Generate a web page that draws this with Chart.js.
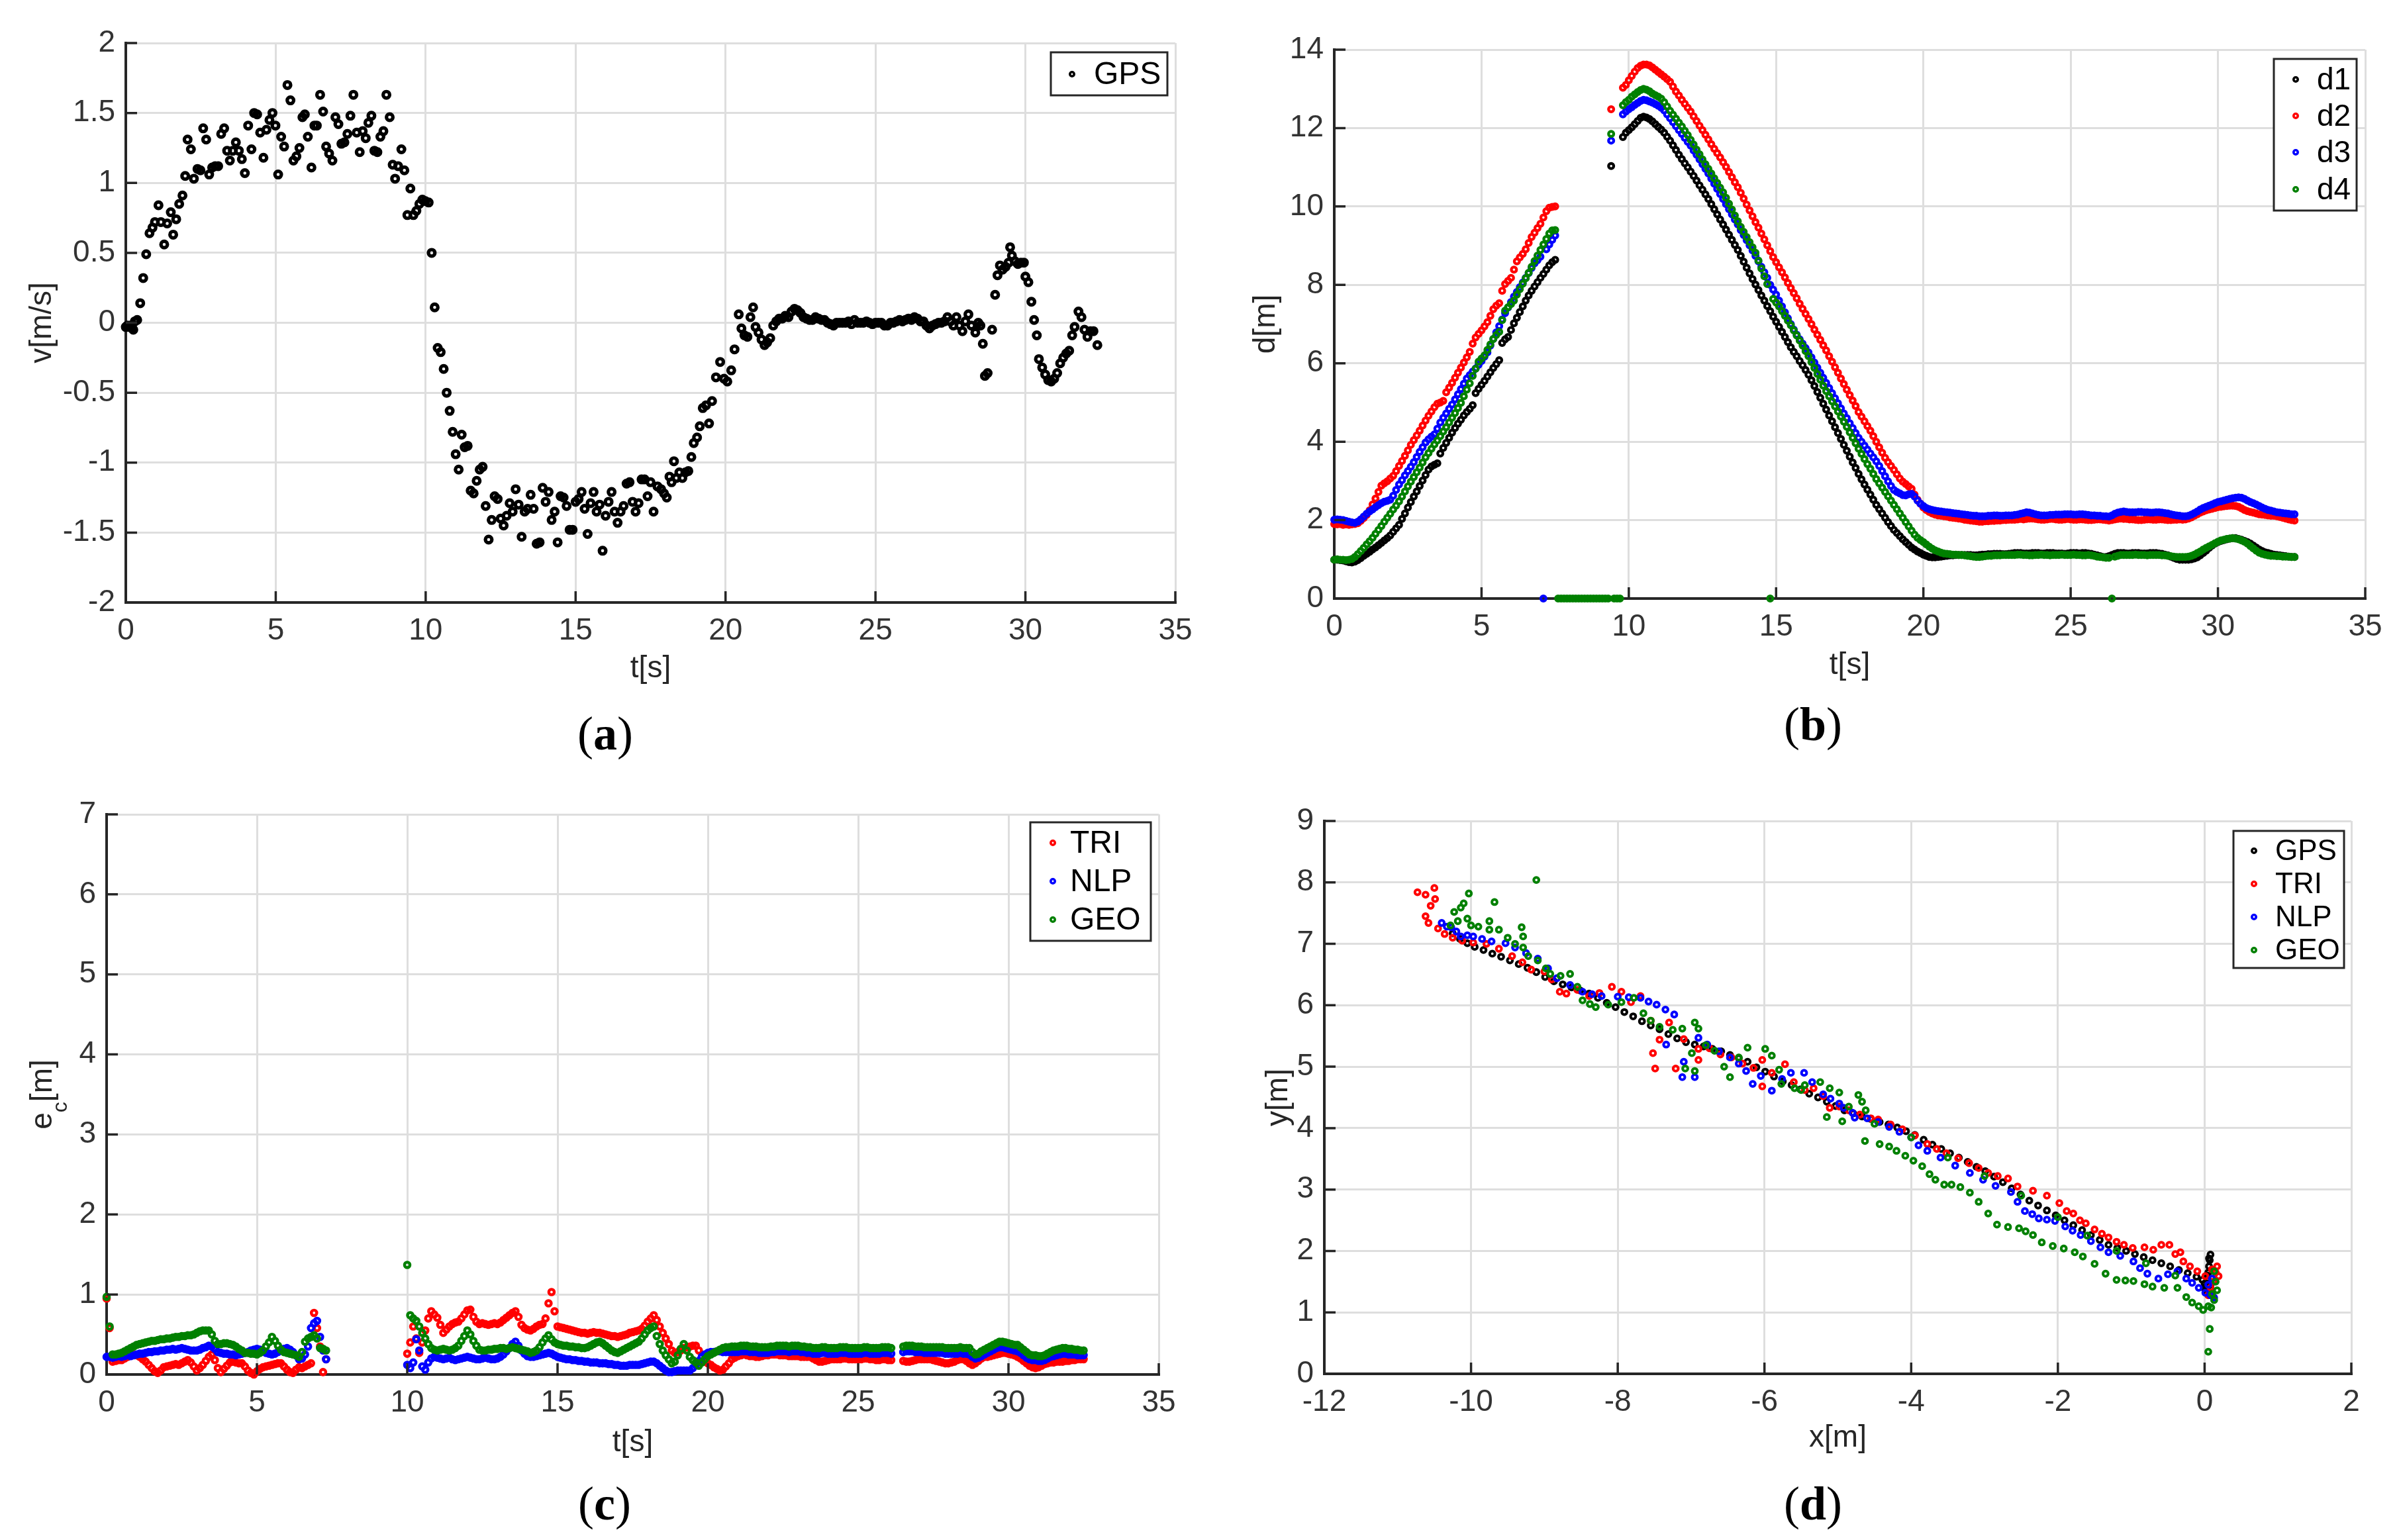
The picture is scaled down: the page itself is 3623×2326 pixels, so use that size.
<!DOCTYPE html>
<html><head><meta charset="utf-8">
<script src="https://cdn.jsdelivr.net/npm/chart.js@4.4.1/dist/chart.umd.min.js"></script>
<style>
html,body{margin:0;padding:0;background:#fff;}
body{width:3623px;height:2326px;position:relative;overflow:hidden;}
canvas{position:absolute;}
.cap{position:absolute;font-family:"Liberation Serif","Times New Roman",serif;font-size:72px;color:#000;transform:translate(-50%,-50%);white-space:nowrap;line-height:1;}
.cap b{font-weight:bold;}
</style></head><body>
<div class="cap" style="left:914px;top:1108px">(<b>a</b>)</div>
<div class="cap" style="left:2738px;top:1094px">(<b>b</b>)</div>
<div class="cap" style="left:913px;top:2271px">(<b>c</b>)</div>
<div class="cap" style="left:2738px;top:2271px">(<b>d</b>)</div>
<script>
const _ = null;

// ---------- (a) GPS velocity ----------
const aT = [
0,0.05,0.1,0.15,0.2,0.25,0.3,0.38,0.48,0.58,
0.68,0.79,0.89,0.97,1.09,1.17,1.28,1.38,1.5,1.58,
1.68,1.78,1.89,1.98,2.06,2.17,2.27,2.39,2.49,2.58,
2.68,2.78,2.88,2.98,3.08,3.18,3.28,3.38,3.47,3.57,
3.67,3.77,3.87,3.97,4.08,4.19,4.28,4.38,4.48,4.59,
4.69,4.79,4.89,4.99,5.08,5.18,5.28,5.39,5.49,5.59,
5.69,5.79,5.89,5.97,6.07,6.19,6.29,6.37,6.48,6.58,
6.68,6.78,6.89,6.99,7.09,7.19,7.29,7.39,7.49,7.59,
7.7,7.8,7.9,8,8.09,8.19,8.29,8.39,8.49,8.59,
8.69,8.8,8.9,8.98,9.08,9.19,9.29,9.39,9.49,9.59,
9.69,9.79,9.89,9.99,10.1,10.2,10.3,10.4,10.5,10.6,
10.7,10.8,10.9,11,11.1,11.2,11.3,11.4,11.5,11.6,
11.7,11.8,11.9,12,12.1,12.2,12.3,12.4,12.5,12.6,
12.7,12.8,12.9,13,13.1,13.2,13.3,13.4,13.5,13.6,
13.7,13.8,13.9,14,14.1,14.2,14.3,14.4,14.5,14.6,
14.7,14.8,14.9,15,15.1,15.2,15.3,15.4,15.5,15.6,
15.7,15.8,15.9,16,16.1,16.2,16.3,16.4,16.5,16.6,
16.7,16.8,16.9,17,17.1,17.2,17.3,17.4,17.5,17.6,
17.73,17.85,17.95,18.04,18.13,18.2,18.28,18.36,18.46,18.56,
18.66,18.76,18.86,18.94,19.05,19.14,19.24,19.35,19.45,19.55,
19.68,19.82,19.95,20.06,20.19,20.3,20.44,20.53,20.63,20.73,
20.83,20.92,21,21.1,21.2,21.3,21.39,21.49,21.59,21.69,
21.79,21.89,21.99,22.1,22.2,22.3,22.4,22.5,22.6,22.7,
22.8,22.9,23,23.1,23.2,23.3,23.4,23.5,23.6,23.7,
23.8,23.9,24,24.1,24.2,24.3,24.4,24.5,24.6,24.7,
24.8,24.9,25,25.1,25.2,25.3,25.4,25.5,25.6,25.7,
25.8,25.9,26,26.1,26.2,26.3,26.4,26.5,26.6,26.7,
26.8,26.9,27,27.1,27.2,27.3,27.4,27.5,27.6,27.7,
27.8,27.9,28,28.1,28.2,28.33,28.43,28.5,28.58,28.65,
28.74,28.89,28.99,29.07,29.15,29.24,29.34,29.44,29.49,29.55,
29.65,29.75,29.85,29.95,30,30.1,30.2,30.29,30.38,30.45,
30.56,30.66,30.76,30.86,30.96,31.06,31.16,31.26,31.36,31.46,
31.56,31.64,31.77,31.87,31.97,32.07,32.17,32.27,32.4];
const aV = [
-0.03,-0.02,-0.03,-0.02,-0.03,-0.05,0.01,0.02,0.14,0.32,
0.49,0.64,0.68,0.72,0.84,0.72,0.56,0.71,0.79,0.63,
0.74,0.85,0.91,1.05,1.31,1.24,1.03,1.1,1.09,1.39,
1.31,1.06,1.11,1.12,1.12,1.35,1.39,1.23,1.16,1.23,
1.29,1.23,1.17,1.07,1.41,1.24,1.5,1.49,1.36,1.18,
1.38,1.45,1.5,1.41,1.06,1.33,1.26,1.7,1.59,1.16,
1.19,1.25,1.47,1.49,1.33,1.11,1.41,1.41,1.63,1.51,
1.26,1.21,1.16,1.47,1.42,1.28,1.29,1.35,1.48,1.63,
1.36,1.22,1.37,1.32,1.43,1.48,1.23,1.22,1.33,1.37,
1.63,1.47,1.13,1.03,1.12,1.24,1.09,0.77,0.96,0.77,
0.8,0.85,0.88,0.87,0.86,0.5,0.11,-0.18,-0.21,-0.33,
-0.5,-0.63,-0.78,-0.94,-1.05,-0.8,-0.89,-0.88,-1.2,-1.22,
-1.13,-1.05,-1.03,-1.31,-1.55,-1.41,-1.24,-1.26,-1.4,-1.45,
-1.38,-1.29,-1.35,-1.19,-1.3,-1.53,-1.35,-1.33,-1.23,-1.33,
-1.58,-1.57,-1.18,-1.28,-1.21,-1.41,-1.35,-1.57,-1.24,-1.25,
-1.31,-1.48,-1.48,-1.28,-1.26,-1.21,-1.33,-1.51,-1.29,-1.21,
-1.35,-1.3,-1.63,-1.38,-1.28,-1.21,-1.35,-1.43,-1.35,-1.31,
-1.15,-1.14,-1.28,-1.35,-1.29,-1.12,-1.12,-1.24,-1.14,-1.35,
-1.17,-1.19,-1.22,-1.25,-1.1,-1.14,-0.99,-1.11,-1.07,-1.11,
-1.07,-1.06,-0.96,-0.86,-0.82,-0.74,-0.61,-0.59,-0.72,-0.56,
-0.39,-0.28,-0.4,-0.42,-0.34,-0.19,0.06,-0.04,-0.09,-0.1,
0.04,0.11,-0.03,-0.07,-0.12,-0.16,-0.14,-0.11,-0.02,0.01,
0.03,0.03,0.05,0.04,0.08,0.1,0.09,0.07,0.04,0.03,
0.02,0.02,0.04,0.03,0.02,0.02,0,-0.01,-0.02,0,
0,0,0,0.01,-0.01,0.02,0,0,0,0.01,
0,-0.01,0,0,0,-0.02,-0.02,0,0,0.01,
0.02,0.01,0.02,0.03,0.02,0.04,0.03,0.01,0.01,-0.02,
-0.04,-0.02,-0.01,0,0,0.01,0.04,0.01,-0.02,0.04,
-0.02,-0.06,0.01,0.06,-0.02,-0.07,0,-0.02,-0.15,-0.38,
-0.36,-0.05,0.2,0.34,0.41,0.38,0.4,0.43,0.54,0.48,
0.44,0.42,0.43,0.43,0.33,0.29,0.15,0.02,-0.09,-0.26,
-0.32,-0.37,-0.41,-0.42,-0.4,-0.36,-0.29,-0.25,-0.22,-0.2,
-0.09,-0.03,0.08,0.04,-0.05,-0.1,-0.06,-0.06,-0.16];

// ---------- sample clock for (b) and (c): 10 samples per second, one row per second ----------
const tGrid = Array.from({length: 330}, (u, i) => i / 10);

// ---------- (b) distances d1..d4 [m] ----------
const bD1 = [
0.99,0.99,0.98,0.97,0.95,0.93,0.92,0.94,0.98,1.03,
1.09,1.14,1.19,1.25,1.30,1.36,1.42,1.48,1.54,1.61,
1.70,1.79,1.88,2.03,2.17,2.32,2.46,2.60,2.73,2.87,
3.01,3.15,3.29,3.37,3.41,3.45,3.70,3.84,3.97,4.10,
4.23,4.35,4.46,4.56,4.67,4.76,4.84,4.93,5.24,5.35,
5.45,5.55,5.66,5.77,5.88,5.98,6.08,6.52,6.61,6.67,
6.85,7.02,7.16,7.31,7.45,7.60,7.73,7.85,7.96,8.07,
8.18,8.28,8.39,8.50,8.58,8.64,_,_,_,_,
_,_,_,_,_,_,_,_,_,_,
_,_,_,_,11.03,_,_,_,11.77,11.88,
11.95,12.02,12.10,12.18,12.26,12.29,12.27,12.23,12.17,12.10,
12.03,11.96,11.88,11.78,11.68,11.56,11.44,11.32,11.21,11.10,
11.00,10.89,10.78,10.66,10.54,10.43,10.31,10.19,10.06,9.93,
9.80,9.67,9.54,9.41,9.28,9.15,9.02,8.89,8.74,8.59,
8.44,8.29,8.15,8.01,7.87,7.73,7.60,7.46,7.33,7.19,
7.06,6.93,6.80,6.67,6.54,6.41,6.29,6.18,6.06,5.95,
5.83,5.71,5.57,5.42,5.27,5.12,4.97,4.82,4.67,4.52,
4.37,4.22,4.07,3.92,3.77,3.62,3.47,3.33,3.18,3.04,
2.91,2.78,2.65,2.52,2.39,2.28,2.17,2.06,1.95,1.85,
1.75,1.67,1.59,1.51,1.44,1.37,1.30,1.25,1.20,1.16,
1.12,1.09,1.06,1.05,1.05,1.06,1.07,1.08,1.09,1.10,
1.10,1.11,1.11,1.11,1.11,1.11,1.11,1.10,1.10,1.11,
1.12,1.12,1.13,1.13,1.14,1.14,1.14,1.13,1.13,1.14,
1.15,1.16,1.16,1.16,1.15,1.15,1.15,1.16,1.16,1.16,
1.15,1.15,1.16,1.16,1.16,1.15,1.15,1.15,1.14,1.15,
1.16,1.16,1.16,1.15,1.16,1.16,1.15,1.14,1.12,1.10,
1.08,1.06,1.06,1.08,1.11,1.14,1.16,1.16,1.16,1.15,
1.15,1.16,1.16,1.16,1.15,1.15,1.15,1.16,1.16,1.16,
1.15,1.14,1.12,1.10,1.07,1.04,1.01,0.99,0.99,0.99,
0.99,1.00,1.02,1.05,1.10,1.16,1.22,1.29,1.35,1.40,
1.44,1.47,1.49,1.51,1.53,1.54,1.54,1.52,1.50,1.47,
1.44,1.40,1.35,1.30,1.25,1.21,1.18,1.16,1.14,1.12,
1.11,1.10,1.09,1.08,1.07,1.06,1.06,_,_,_];
const bD2 = [
1.90,1.89,1.90,1.88,1.89,1.88,1.89,1.90,1.92,1.98,
2.05,2.13,2.25,2.40,2.55,2.72,2.88,2.94,2.99,3.06,
3.13,3.25,3.38,3.51,3.64,3.78,3.92,4.04,4.16,4.28,
4.41,4.54,4.66,4.77,4.88,4.97,5.00,5.04,5.26,5.38,
5.50,5.63,5.76,5.89,6.02,6.15,6.29,6.50,6.66,6.75,
6.84,6.94,7.05,7.21,7.38,7.47,7.53,7.85,8.02,8.10,
8.18,8.39,8.60,8.70,8.79,8.91,9.07,9.22,9.33,9.45,
9.56,9.72,9.88,9.97,9.99,10.00,_,_,_,_,
_,_,_,_,_,_,_,_,_,_,
_,_,_,_,12.48,_,_,_,13.03,13.10,
13.22,13.33,13.44,13.53,13.59,13.62,13.62,13.60,13.55,13.49,
13.43,13.37,13.31,13.25,13.18,13.06,12.93,12.83,12.72,12.62,
12.52,12.42,12.30,12.18,12.06,11.95,11.83,11.71,11.59,11.47,
11.36,11.25,11.13,11.01,10.88,10.75,10.62,10.49,10.35,10.20,
10.05,9.90,9.75,9.60,9.46,9.31,9.16,9.01,8.86,8.71,
8.58,8.45,8.32,8.19,8.05,7.92,7.79,7.66,7.52,7.39,
7.26,7.13,7.00,6.86,6.73,6.60,6.46,6.33,6.18,6.04,
5.90,5.76,5.61,5.47,5.33,5.19,5.05,4.91,4.76,4.64,
4.52,4.40,4.28,4.14,4.00,3.86,3.72,3.59,3.48,3.38,
3.28,3.17,3.06,2.98,2.92,2.86,2.80,2.65,2.52,2.42,
2.32,2.26,2.21,2.17,2.14,2.12,2.11,2.10,2.09,2.07,
2.06,2.05,2.04,2.03,2.01,2.00,1.99,1.98,1.97,1.96,
1.96,1.97,1.97,1.98,1.98,1.99,1.99,2.00,2.00,2.01,
2.01,2.01,2.02,2.03,2.02,2.03,2.04,2.04,2.03,2.02,
2.01,2.01,2.02,2.03,2.03,2.02,2.01,2.01,2.02,2.03,
2.02,2.01,2.01,2.02,2.02,2.01,2.00,2.00,2.01,2.02,
2.02,2.01,2.00,1.99,2.00,2.02,2.03,2.04,2.03,2.03,
2.02,2.02,2.01,2.00,2.00,2.01,2.02,2.02,2.01,2.01,
2.02,2.02,2.01,2.00,2.00,2.01,2.01,2.02,2.01,2.02,
2.04,2.07,2.11,2.15,2.19,2.22,2.25,2.27,2.29,2.31,
2.33,2.34,2.35,2.36,2.37,2.37,2.36,2.34,2.30,2.26,
2.23,2.21,2.19,2.17,2.15,2.14,2.13,2.12,2.11,2.11,
2.10,2.08,2.06,2.04,2.02,2.00,1.99,_,_,_];
const bD3 = [
2.01,2.02,2.01,2.00,1.98,1.96,1.94,1.93,1.96,2.02,
2.09,2.16,2.22,2.27,2.33,2.38,2.43,2.47,2.49,2.52,
2.62,2.77,2.91,3.02,3.14,3.25,3.36,3.48,3.61,3.74,
3.86,3.98,4.06,4.13,4.19,4.33,4.49,4.61,4.72,4.84,
4.95,5.08,5.21,5.34,5.48,5.61,5.70,5.79,5.87,5.96,
6.06,6.17,6.28,6.45,6.62,6.79,6.95,7.12,7.28,7.42,
7.56,7.70,7.82,7.94,8.06,8.18,8.30,8.43,8.55,8.63,
8.72,0,8.91,9.03,9.15,9.26,_,_,_,_,
_,_,_,_,_,_,_,_,_,_,
_,_,_,_,11.68,_,_,_,12.35,12.42,
12.48,12.53,12.59,12.64,12.69,12.72,12.71,12.68,12.65,12.61,
12.57,12.52,12.45,12.35,12.25,12.15,12.05,11.95,11.85,11.75,
11.65,11.55,11.43,11.32,11.20,11.08,10.96,10.84,10.71,10.58,
10.45,10.32,10.19,10.06,9.93,9.80,9.67,9.54,9.40,9.27,
9.14,9.01,8.88,8.74,8.60,8.46,8.32,8.18,8.00,7.88,
7.75,7.60,7.45,7.30,7.15,7.00,6.86,6.73,6.61,6.50,
6.39,6.28,6.15,6.02,5.89,5.76,5.63,5.50,5.37,5.24,
5.11,4.98,4.85,4.72,4.60,4.47,4.35,4.22,4.10,4.00,
3.90,3.80,3.70,3.60,3.50,3.38,3.25,3.12,2.99,2.87,
2.77,2.72,2.68,2.64,2.63,2.66,2.67,2.60,2.50,2.42,
2.36,2.31,2.28,2.26,2.24,2.23,2.22,2.21,2.20,2.19,
2.18,2.17,2.16,2.15,2.14,2.13,2.12,2.11,2.11,2.10,
2.10,2.10,2.11,2.11,2.12,2.12,2.11,2.11,2.12,2.12,
2.12,2.13,2.14,2.16,2.18,2.20,2.19,2.17,2.15,2.13,
2.12,2.12,2.12,2.13,2.13,2.14,2.14,2.14,2.15,2.15,
2.15,2.14,2.14,2.15,2.15,2.14,2.13,2.12,2.12,2.11,
2.11,2.10,2.10,2.09,2.12,2.16,2.19,2.21,2.22,2.21,
2.20,2.20,2.20,2.21,2.21,2.20,2.20,2.19,2.19,2.20,
2.20,2.19,2.18,2.17,2.15,2.13,2.12,2.11,2.10,2.10,
2.11,2.14,2.18,2.22,2.27,2.31,2.34,2.37,2.40,2.43,
2.46,2.48,2.50,2.52,2.54,2.56,2.57,2.58,2.57,2.54,
2.50,2.46,2.43,2.40,2.36,2.32,2.29,2.26,2.24,2.22,
2.20,2.19,2.18,2.17,2.16,2.15,2.15,_,_,_];
const bD4 = [
0.99,1.00,0.99,0.99,0.98,0.99,1.01,1.06,1.13,1.21,
1.29,1.38,1.46,1.55,1.65,1.75,1.85,1.96,2.06,2.16,
2.27,2.37,2.48,2.60,2.73,2.86,2.98,3.10,3.22,3.34,
3.47,3.60,3.71,3.82,3.93,4.03,4.14,4.26,4.37,4.49,
4.61,4.73,4.86,4.99,5.16,5.33,5.49,5.68,5.86,6.04,
6.12,6.20,6.34,6.48,6.62,6.72,6.80,7.10,7.34,7.43,
7.51,7.60,7.75,7.89,8.03,8.17,8.31,8.46,8.61,8.75,
8.89,9.03,9.17,9.31,9.39,9.40,0,0,0,0,
0,0,0,0,0,0,0,0,0,0,
0,0,0,0,11.85,0,0,0,12.58,12.66,
12.72,12.80,12.86,12.92,12.97,13.00,12.98,12.94,12.88,12.84,
12.80,12.75,12.66,12.55,12.44,12.34,12.24,12.14,12.04,11.93,
11.82,11.70,11.58,11.45,11.33,11.20,11.08,10.96,10.84,10.72,
10.60,10.48,10.36,10.22,10.07,9.92,9.77,9.62,9.48,9.35,
9.22,9.09,8.96,8.82,8.62,8.42,8.22,8.02,0,7.64,
7.55,7.45,7.33,7.21,7.09,6.97,6.84,6.71,6.58,6.45,
6.31,6.18,6.03,5.88,5.73,5.58,5.43,5.29,5.16,5.03,
4.90,4.77,4.64,4.51,4.38,4.24,4.10,3.96,3.82,3.69,
3.56,3.43,3.31,3.18,3.05,2.94,2.83,2.72,2.61,2.50,
2.39,2.28,2.17,2.06,1.95,1.84,1.73,1.63,1.55,1.49,
1.44,1.38,1.32,1.27,1.23,1.20,1.17,1.15,1.14,1.13,
1.12,1.12,1.11,1.11,1.10,1.09,1.08,1.07,1.06,1.06,
1.07,1.08,1.09,1.09,1.10,1.10,1.10,1.11,1.11,1.11,
1.11,1.11,1.12,1.12,1.11,1.11,1.10,1.10,1.11,1.11,
1.12,1.11,1.11,1.10,1.11,1.11,1.11,1.12,1.11,1.11,
1.11,1.12,1.11,1.11,1.10,1.10,1.11,1.10,1.09,1.07,
1.06,1.05,1.04,1.04,0,1.07,1.09,1.11,1.11,1.11,
1.11,1.11,1.12,1.11,1.11,1.11,1.10,1.11,1.11,1.11,
1.11,1.10,1.10,1.09,1.08,1.07,1.06,1.06,1.06,1.06,
1.07,1.09,1.12,1.16,1.20,1.25,1.29,1.33,1.37,1.41,
1.45,1.48,1.50,1.52,1.53,1.54,1.53,1.51,1.48,1.45,
1.40,1.34,1.28,1.22,1.17,1.14,1.12,1.10,1.09,1.09,
1.08,1.08,1.07,1.07,1.07,1.06,1.06,_,_,_];

// ---------- (c) localisation error e_c [m] ----------
const cTRI = [
0.95,0.58,0.16,0.17,0.18,0.18,0.20,0.22,0.24,0.25,
0.24,0.22,0.19,0.16,0.12,0.08,0.04,0.02,0.05,0.09,
0.10,0.11,0.12,0.13,0.12,0.14,0.16,0.18,0.15,0.10,
0.05,0.08,0.12,0.17,0.22,0.25,0.18,0.08,0.03,0.07,
0.11,0.15,0.16,0.15,0.14,0.14,0.10,0.05,0.02,0.00,
0.04,0.07,0.09,0.10,0.11,0.12,0.13,0.14,0.14,0.10,
0.06,0.03,0.02,0.06,0.09,0.08,0.10,0.12,0.14,0.77,
0.58,0.35,0.03,0.19,_,_,_,_,_,_,
_,_,_,_,_,_,_,_,_,_,
_,_,_,_,_,_,_,_,_,_,
0.26,0.40,0.60,0.45,0.27,0.40,0.55,0.70,0.79,0.75,
0.71,0.62,0.52,0.56,0.60,0.63,0.65,0.66,0.70,0.75,
0.80,0.81,0.72,0.66,0.63,0.64,0.63,0.62,0.63,0.64,
0.63,0.65,0.68,0.71,0.74,0.77,0.79,0.72,0.62,0.58,
0.56,0.55,0.57,0.60,0.62,0.63,0.70,0.89,1.03,0.79,
0.60,0.59,0.58,0.57,0.56,0.55,0.54,0.53,0.52,0.52,
0.51,0.52,0.53,0.52,0.52,0.51,0.50,0.49,0.48,0.48,
0.47,0.48,0.49,0.50,0.52,0.53,0.54,0.55,0.57,0.61,
0.66,0.70,0.74,0.68,0.60,0.52,0.45,0.38,0.30,0.27,
0.28,0.30,0.33,0.34,0.35,0.36,0.36,0.30,0.22,0.16,
0.14,0.12,0.09,0.07,0.05,0.06,0.10,0.14,0.19,0.21,
0.23,0.24,0.25,0.24,0.23,0.23,0.22,0.22,0.23,0.24,
0.24,0.25,0.25,0.25,0.24,0.24,0.24,0.23,0.23,0.23,
0.23,0.22,0.22,0.22,0.22,0.20,0.18,0.16,0.16,0.17,
0.18,0.19,0.19,0.19,0.19,0.20,0.20,0.19,0.19,0.19,
0.19,0.19,0.20,0.20,0.19,0.19,0.18,0.18,0.19,0.19,
0.18,0.18,_,_,_,0.17,0.16,0.16,0.17,0.18,
0.19,0.19,0.19,0.19,0.19,0.18,0.17,0.16,0.15,0.14,
0.14,0.15,0.16,0.18,0.19,0.19,0.17,0.14,0.12,0.14,
0.17,0.20,0.22,0.22,0.23,0.24,0.25,0.26,0.27,0.27,
0.26,0.25,0.24,0.22,0.20,0.17,0.14,0.11,0.09,0.08,
0.09,0.11,0.13,0.14,0.15,0.15,0.16,0.16,0.16,0.17,
0.17,0.18,0.18,0.19,0.19,0.19,_,_,_,_];
const cNLP = [
0.22,0.22,0.21,0.22,0.23,0.22,0.23,0.24,0.23,0.24,
0.25,0.26,0.26,0.27,0.28,0.28,0.29,0.29,0.30,0.30,
0.31,0.31,0.32,0.31,0.32,0.33,0.32,0.31,0.30,0.30,
0.30,0.31,0.33,0.34,0.36,0.35,0.32,0.28,0.27,0.26,
0.26,0.25,0.25,0.24,0.25,0.26,0.27,0.28,0.30,0.31,
0.32,0.31,0.29,0.27,0.26,0.25,0.26,0.28,0.30,0.32,
0.33,0.31,0.28,0.24,0.19,0.20,0.25,0.35,0.58,0.64,
0.67,0.47,0.30,0.19,_,_,_,_,_,_,
_,_,_,_,_,_,_,_,_,_,
_,_,_,_,_,_,_,_,_,_,
0.12,0.08,0.15,0.44,0.30,0.10,0.06,0.15,0.20,0.22,
0.21,0.20,0.19,0.20,0.21,0.19,0.18,0.19,0.20,0.21,
0.22,0.21,0.20,0.19,0.19,0.20,0.21,0.20,0.19,0.19,
0.20,0.22,0.25,0.29,0.33,0.38,0.41,0.36,0.30,0.26,
0.23,0.22,0.22,0.23,0.24,0.25,0.26,0.27,0.26,0.24,
0.22,0.21,0.20,0.19,0.19,0.18,0.18,0.17,0.17,0.16,
0.16,0.15,0.15,0.15,0.14,0.14,0.14,0.13,0.13,0.12,
0.12,0.11,0.11,0.11,0.12,0.12,0.12,0.12,0.13,0.14,
0.15,0.16,0.16,0.14,0.11,0.08,0.05,0.03,0.03,0.04,
0.05,0.05,0.05,0.05,0.05,0.08,0.12,0.17,0.22,0.25,
0.27,0.28,0.28,0.29,0.29,0.28,0.28,0.28,0.28,0.28,
0.28,0.29,0.29,0.29,0.28,0.28,0.28,0.27,0.27,0.27,
0.27,0.28,0.28,0.29,0.29,0.29,0.29,0.28,0.29,0.29,
0.29,0.28,0.28,0.27,0.27,0.26,0.26,0.26,0.27,0.27,
0.26,0.26,0.26,0.26,0.27,0.27,0.27,0.26,0.26,0.26,
0.26,0.26,0.27,0.27,0.26,0.26,0.26,0.26,0.27,0.27,
0.27,0.26,_,_,_,0.28,0.29,0.29,0.29,0.28,
0.28,0.28,0.27,0.27,0.27,0.27,0.27,0.27,0.27,0.26,
0.26,0.26,0.26,0.26,0.27,0.26,0.26,0.25,0.22,0.20,
0.21,0.23,0.25,0.27,0.29,0.31,0.33,0.34,0.34,0.33,
0.32,0.31,0.30,0.29,0.27,0.24,0.21,0.19,0.18,0.18,
0.17,0.17,0.18,0.20,0.22,0.23,0.24,0.25,0.26,0.26,
0.25,0.25,0.25,0.24,0.24,0.24,_,_,_,_];
const cGEO = [
0.97,0.60,0.25,0.25,0.26,0.27,0.29,0.31,0.33,0.35,
0.37,0.38,0.39,0.40,0.41,0.42,0.42,0.43,0.44,0.44,
0.45,0.45,0.46,0.47,0.47,0.48,0.48,0.49,0.49,0.50,
0.52,0.54,0.55,0.55,0.55,0.50,0.42,0.38,0.38,0.39,
0.39,0.38,0.37,0.35,0.32,0.30,0.27,0.27,0.26,0.26,
0.25,0.27,0.30,0.35,0.40,0.47,0.42,0.36,0.31,0.28,
0.27,0.26,0.25,0.24,0.22,0.28,0.41,0.45,0.47,0.49,
0.45,0.33,0.32,0.30,_,_,_,_,_,_,
_,_,_,_,_,_,_,_,_,_,
_,_,_,_,_,_,_,_,_,_,
1.37,0.74,0.70,0.67,0.60,0.52,0.45,0.38,0.33,0.31,
0.30,0.31,0.32,0.31,0.30,0.31,0.33,0.36,0.42,0.48,
0.55,0.50,0.42,0.36,0.31,0.30,0.30,0.31,0.31,0.32,
0.32,0.33,0.33,0.32,0.33,0.34,0.33,0.32,0.31,0.30,
0.29,0.27,0.28,0.30,0.34,0.40,0.45,0.49,0.44,0.40,
0.38,0.37,0.36,0.36,0.35,0.35,0.34,0.34,0.33,0.33,
0.34,0.36,0.38,0.40,0.41,0.39,0.36,0.33,0.30,0.28,
0.27,0.29,0.31,0.33,0.35,0.37,0.39,0.41,0.45,0.50,
0.55,0.58,0.60,0.48,0.38,0.30,0.24,0.19,0.14,0.16,
0.24,0.32,0.38,0.30,0.22,0.18,0.15,0.11,0.15,0.19,
0.23,0.25,0.27,0.29,0.31,0.33,0.34,0.34,0.35,0.35,
0.35,0.36,0.36,0.36,0.35,0.35,0.35,0.34,0.34,0.34,
0.34,0.35,0.35,0.36,0.36,0.36,0.36,0.35,0.36,0.36,
0.36,0.35,0.35,0.34,0.34,0.33,0.33,0.33,0.34,0.34,
0.33,0.33,0.33,0.33,0.34,0.34,0.34,0.33,0.33,0.33,
0.33,0.33,0.34,0.34,0.33,0.33,0.33,0.33,0.34,0.34,
0.34,0.33,_,_,_,0.35,0.36,0.36,0.36,0.35,
0.35,0.35,0.34,0.34,0.34,0.34,0.34,0.34,0.34,0.33,
0.33,0.33,0.33,0.33,0.34,0.33,0.33,0.33,0.28,0.25,
0.26,0.29,0.31,0.33,0.35,0.37,0.39,0.41,0.41,0.40,
0.39,0.38,0.37,0.37,0.34,0.31,0.28,0.25,0.24,0.24,
0.23,0.23,0.24,0.26,0.28,0.30,0.31,0.32,0.33,0.33,
0.32,0.32,0.31,0.31,0.30,0.30,_,_,_,_];

// ---------- (d) trajectories [x, y] in metres ----------
const dGPS = [
[-10.25,7.17],[-10.15,7.08],[-10.05,7.01],[-9.95,6.95],[-9.83,6.90],[-9.71,6.84],[-9.59,6.79],[-9.47,6.73],[-9.35,6.67],[-9.23,6.61],
[-9.11,6.54],[-8.99,6.46],[-8.87,6.39],[-8.75,6.34],[-8.63,6.29],[-8.51,6.24],[-8.39,6.19],[-8.27,6.12],[-8.15,6.04],[-8.03,5.97],
[-7.91,5.89],[-7.79,5.82],[-7.67,5.74],[-7.55,5.67],[-7.43,5.61],[-7.31,5.53],[-7.19,5.46],[-7.07,5.40],[-6.95,5.36],[-6.83,5.33],
[-6.71,5.29],[-6.59,5.25],[-6.47,5.19],[-6.35,5.14],[-6.23,5.08],[-6.11,4.99],[-5.99,4.92],[-5.87,4.84],[-5.75,4.76],[-5.63,4.70],
[-5.51,4.63],[-5.39,4.56],[-5.27,4.50],[-5.15,4.43],[-5.03,4.36],[-4.91,4.29],[-4.79,4.24],[-4.67,4.19],[-4.55,4.15],[-4.43,4.10],
[-4.31,4.06],[-4.19,4.01],[-4.07,3.95],[-3.95,3.89],[-3.83,3.81],[-3.71,3.73],[-3.59,3.66],[-3.47,3.59],[-3.35,3.52],[-3.23,3.45],
[-3.11,3.37],[-2.99,3.30],[-2.87,3.21],[-2.75,3.12],[-2.63,3.02],[-2.51,2.92],[-2.39,2.82],[-2.27,2.74],[-2.15,2.66],[-2.03,2.58],
[-1.91,2.50],[-1.79,2.42],[-1.67,2.34],[-1.55,2.26],[-1.43,2.18],[-1.31,2.10],[-1.19,2.05],[-1.07,2.00],[-0.95,1.95],[-0.83,1.90],
[-0.71,1.85],[-0.59,1.80],[-0.47,1.75],[-0.35,1.69],[-0.23,1.64],[-0.11,1.58],[-0.03,1.53],[0.00,1.47],[0.02,1.42],[0.04,1.55],
[0.05,1.65],[0.06,1.75],[0.07,1.85],[0.08,1.94],[0.06,1.88],[0.04,1.60],[0.03,1.38],[0.06,1.32],[0.08,1.45],[0.01,1.36]];
const dTRI = [
[-10.73,7.84],[-10.62,7.80],[-10.50,7.91],[-10.49,7.73],[-10.55,7.62],[-10.62,7.45],[-10.58,7.34],[-10.45,7.25],[-10.36,7.16],[-10.25,7.10],
[-10.12,7.05],[-9.97,7.02],[-9.79,7.00],[-9.62,6.92],[-9.44,6.80],[-9.30,6.70],[-9.18,6.58],[-9.00,6.55],[-8.90,6.42],[-8.79,6.22],
[-8.70,6.19],[-8.55,6.25],[-8.39,6.15],[-8.25,6.20],[-8.08,6.30],[-7.95,6.22],[-7.82,6.05],[-7.69,6.15],[-7.55,5.75],[-7.43,5.44],
[-7.52,5.22],[-7.49,4.97],[-7.30,5.72],[-7.21,4.97],[-7.10,5.45],[-6.90,5.29],[-6.90,5.11],[-6.75,5.30],[-6.60,5.20],[-6.45,5.15],
[-6.30,5.05],[-6.15,4.98],[-6.03,5.11],[-6.03,4.68],[-5.90,4.90],[-5.72,5.04],[-5.60,4.75],[-5.45,4.62],[-5.33,4.65],[-5.20,4.52],
[-5.11,4.33],[-4.98,4.35],[-4.85,4.29],[-4.70,4.22],[-4.55,4.16],[-4.45,4.14],[-4.28,4.06],[-4.12,3.98],[-3.95,3.88],[-3.78,3.74],
[-3.65,3.66],[-3.52,3.59],[-3.36,3.51],[-3.21,3.43],[-3.08,3.35],[-2.95,3.27],[-2.82,3.22],[-2.68,3.18],[-2.55,3.05],[-2.34,2.98],
[-2.15,2.90],[-1.98,2.78],[-1.88,2.65],[-1.79,2.61],[-1.70,2.50],[-1.62,2.45],[-1.50,2.35],[-1.40,2.28],[-1.31,2.22],[-1.20,2.15],
[-1.10,2.10],[-0.98,2.05],[-0.82,2.06],[-0.70,2.02],[-0.59,2.10],[-0.48,2.10],[-0.40,1.95],[-0.33,1.98],[-0.29,1.83],[-0.20,1.75],
[-0.10,1.67],[0.01,1.59],[0.10,1.70],[0.17,1.75],[0.19,1.59],[0.12,1.50],[0.05,1.28],[0.08,1.40],[0.15,1.65]];
const dNLP = [
[-10.40,7.34],[-10.33,7.28],[-10.27,7.27],[-10.20,7.20],[-10.14,7.12],[-10.05,7.14],[-9.97,7.12],[-9.85,7.08],[-9.72,7.04],[-9.53,7.01],
[-9.40,6.94],[-9.25,6.85],[-9.09,6.76],[-8.95,6.60],[-8.83,6.44],[-8.65,6.33],[-8.48,6.22],[-8.35,6.18],[-8.22,6.15],[-8.00,6.14],
[-7.85,6.13],[-7.69,6.12],[-7.58,6.06],[-7.47,6.01],[-7.35,5.93],[-7.23,5.85],[-7.34,5.36],[-7.10,5.08],[-7.12,4.83],[-6.95,4.83],
[-6.90,5.47],[-6.78,5.36],[-6.62,5.25],[-6.47,5.15],[-6.35,5.05],[-6.25,4.93],[-6.16,4.72],[-6.05,4.85],[-5.90,4.61],[-5.76,4.80],
[-5.64,4.90],[-5.46,4.90],[-5.35,4.75],[-5.20,4.55],[-5.10,4.48],[-4.98,4.40],[-4.92,4.33],[-4.80,4.25],[-4.77,4.17],[-4.60,4.16],
[-4.45,4.10],[-4.30,4.02],[-4.16,3.94],[-4.00,3.85],[-3.90,3.72],[-3.78,3.63],[-3.60,3.52],[-3.40,3.39],[-3.20,3.27],[-3.02,3.16],
[-2.85,3.06],[-2.64,2.96],[-2.55,2.80],[-2.45,2.65],[-2.35,2.60],[-2.26,2.53],[-2.15,2.51],[-2.04,2.49],[-1.90,2.40],[-1.80,2.33],
[-1.69,2.26],[-1.55,2.16],[-1.42,2.06],[-1.31,1.98],[-1.15,1.92],[-0.97,1.83],[-0.88,1.72],[-0.78,1.63],[-0.63,1.55],[-0.50,1.62],
[-0.37,1.67],[-0.25,1.55],[-0.17,1.48],[-0.08,1.40],[0.01,1.32],[0.08,1.28],[0.13,1.24],[0.05,1.45],[0.10,1.55]];
const dGEO = [
[-10.23,7.52],[-10.14,7.59],[-10.10,7.66],[-10.03,7.82],[-10.05,7.41],[-10.18,7.37],[-10.28,7.30],[-10.00,7.30],[-9.90,7.28],[-9.75,7.37],
[-9.75,7.23],[-9.68,7.68],[-9.62,7.23],[-9.50,7.10],[-9.40,7.00],[-9.31,7.27],[-9.29,7.12],[-9.29,6.94],[-9.22,6.80],[-9.11,8.04],
[-9.09,6.73],[-8.98,6.60],[-8.92,6.51],[-8.78,6.48],[-8.65,6.51],[-8.55,6.30],[-8.48,6.08],[-8.38,6.02],[-8.30,5.97],[-8.13,6.01],
[-7.95,6.05],[-7.78,6.12],[-7.65,5.87],[-7.55,5.75],[-7.43,5.65],[-7.25,5.60],[-7.12,5.62],[-6.95,5.72],[-6.90,5.62],[-6.99,5.22],
[-6.95,4.93],[-7.08,4.97],[-6.80,5.35],[-6.68,5.26],[-6.55,5.00],[-6.47,4.83],[-6.35,5.15],[-6.23,5.31],[-5.99,5.29],[-5.90,5.18],
[-5.80,4.95],[-5.77,4.72],[-5.59,4.65],[-5.50,4.62],[-5.45,4.70],[-5.24,4.75],[-5.11,4.65],[-4.98,4.58],[-5.15,4.18],[-4.94,4.11],
[-4.85,4.35],[-4.72,4.54],[-4.67,4.43],[-4.62,4.29],[-4.63,3.79],[-4.50,4.07],[-4.43,3.74],[-4.30,3.70],[-4.20,3.63],[-4.08,3.55],
[-4.00,3.85],[-3.97,3.47],[-3.85,3.38],[-3.75,3.25],[-3.67,3.16],[-3.55,3.08],[-3.50,3.52],[-3.45,3.08],[-3.33,3.04],[-3.20,2.95],
[-3.08,2.80],[-3.00,3.22],[-2.95,2.61],[-2.83,2.43],[-2.68,2.39],[-2.53,2.37],[-2.50,2.90],[-2.44,2.32],[-2.34,2.26],[-2.22,2.14],
[-2.07,2.08],[-2.00,2.55],[-1.92,2.04],[-1.77,1.98],[-1.66,1.91],[-1.60,2.25],[-1.50,1.79],[-1.35,1.63],[-1.20,1.53],[-1.20,2.00],
[-1.08,1.52],[-0.97,1.51],[-0.82,1.46],[-0.80,1.80],[-0.71,1.42],[-0.55,1.40],[-0.40,1.60],[-0.37,1.40],[-0.25,1.25],[-0.17,1.16],
[-0.08,1.10],[-0.02,1.04],[0.05,1.10],[0.09,1.08],[0.13,1.20],[0.17,1.36],[0.15,1.50],[0.13,1.67],[0.10,1.30],[0.07,0.73],
[0.05,0.36]];

// ---------- axis ticks ----------
const aXTicks = {min: 0, max: 35, step: 5};
const aYTicks = {min: -2, max: 2, step: 0.5};
const bYTicks = {min: 0, max: 14, step: 2};
const cYTicks = {min: 0, max: 7, step: 1};
const dXTicks = {min: -12, max: 2, step: 2};
const dYTicks = {min: 0, max: 9, step: 1};

// ---------- rendering ----------
const FONT = '"Liberation Sans", Arial, Helvetica, sans-serif';
Chart.defaults.font.family = FONT;
Chart.defaults.color = '#333';
const BLACK = '#000000', RED = '#ff0000', BLUE = '#0000ff', GREEN = '#008000';

const onGrid = vals => vals.map((v, i) => ({x: tGrid[i], y: v})).filter(p => p.y !== null);
const fromPairs = arr => arr.map(p => ({x: p[0], y: p[1]}));
const fromXY = (xs, ys) => xs.map((x, i) => ({x, y: ys[i]}));
const tickText = v => String(Math.round(v * 1000) / 1000);

function ds(label, data, color, r, bw, order) {
  return {label, data, pointStyle: 'circle', pointRadius: r, pointHoverRadius: r,
    pointBorderWidth: bw, pointBorderColor: color, pointBackgroundColor: 'rgba(0,0,0,0)',
    borderColor: color, showLine: false, clip: false, order};
}

function scaleCfg(axis, s, title, box) {
  return {
    type: 'linear', position: axis === 'x' ? 'bottom' : 'left', min: s.min, max: s.max,
    ticks: {stepSize: s.step, font: {size: 46}, color: '#333', padding: 16, maxRotation: 0, minRotation: 0,
      autoSkip: false, callback: tickText},
    grid: {color: '#dedede', lineWidth: 3, drawTicks: false},
    border: {display: true, color: '#262626', width: 4},
    title: {display: !!title, text: title || '', font: {size: 46}, color: '#262626', padding: 0},
    afterFit: sc => { if (axis === 'x') sc.height = box.AH; else sc.width = box.AW; }
  };
}

const innerTicks = {
  id: 'innerTicks',
  afterDatasetsDraw(chart) {
    const {ctx, chartArea: a, scales: {x, y}} = chart;
    ctx.save(); ctx.strokeStyle = '#262626'; ctx.lineWidth = 3.5; ctx.beginPath();
    x.ticks.forEach(t => { const p = x.getPixelForValue(t.value); ctx.moveTo(p, a.bottom); ctx.lineTo(p, a.bottom - 17); });
    y.ticks.forEach(t => { const p = y.getPixelForValue(t.value); ctx.moveTo(a.left, p); ctx.lineTo(a.left + 17, p); });
    ctx.stroke(); ctx.restore();
  }
};

function boxLegend(cfg) {
  return {
    id: 'boxLegend',
    afterDraw(chart) {
      const {ctx, chartArea: a} = chart;
      const x0 = a.right - cfg.right - cfg.w, y0 = a.top + cfg.top;
      ctx.save();
      ctx.fillStyle = '#fff'; ctx.fillRect(x0, y0, cfg.w, cfg.h);
      ctx.strokeStyle = '#262626'; ctx.lineWidth = 3; ctx.strokeRect(x0, y0, cfg.w, cfg.h);
      ctx.font = cfg.font + 'px ' + FONT; ctx.textBaseline = 'middle'; ctx.textAlign = 'left';
      const items = chart.data.datasets;
      items.forEach((d, i) => {
        const yy = y0 + cfg.rows[i];
        ctx.beginPath(); ctx.arc(x0 + cfg.mx, yy, 3.2, 0, 2 * Math.PI);
        ctx.strokeStyle = d.pointBorderColor; ctx.lineWidth = 3.6; ctx.stroke();
        ctx.fillStyle = '#000'; ctx.fillText(d.label, x0 + cfg.tx, yy + 2);
      });
      ctx.restore();
    }
  };
}

const ecTitle = {
  id: 'ecTitle',
  afterDraw(chart) {
    const {ctx, chartArea: a} = chart;
    ctx.save();
    ctx.translate(a.left - 96, (a.top + a.bottom) / 2);
    ctx.rotate(-Math.PI / 2);
    ctx.fillStyle = '#262626'; ctx.textBaseline = 'middle'; ctx.textAlign = 'left';
    const big = '46px ' + FONT, small = '32px ' + FONT;
    ctx.font = big; const we = ctx.measureText('e').width, wm = ctx.measureText('[m]').width;
    ctx.font = small; const wc = ctx.measureText('c').width;
    const sx = -(we + wc + wm) / 2;
    ctx.font = big; ctx.fillText('e', sx, 0);
    ctx.font = small; ctx.fillText('c', sx + we, 27);
    ctx.font = big; ctx.fillText('[m]', sx + we + wc, 0);
    ctx.restore();
  }
};

function makeChart(box, datasets, xs, ys, xTitle, yTitle, legendCfg, extra) {
  const c = document.createElement('canvas');
  const w = box.AW + (box.R - box.L) + box.PR;
  const h = box.PT + (box.B - box.T) + box.AH;
  c.width = w; c.height = h;
  c.style.left = (box.L - box.AW) + 'px'; c.style.top = (box.T - box.PT) + 'px';
  c.style.width = w + 'px'; c.style.height = h + 'px';
  document.body.appendChild(c);
  return new Chart(c, {
    type: 'scatter',
    data: {datasets},
    options: {
      responsive: false, animation: false, devicePixelRatio: 1, events: [],
      layout: {padding: {left: 0, top: box.PT, right: box.PR, bottom: 0}},
      plugins: {legend: {display: false}, tooltip: {enabled: false}},
      scales: {x: scaleCfg('x', xs, xTitle, box), y: scaleCfg('y', ys, yTitle, box)}
    },
    plugins: [innerTicks, boxLegend(legendCfg)].concat(extra || [])
  });
}

// (a)
makeChart({L: 190, T: 65, R: 1775, B: 910, AW: 153, AH: 128, PT: 45, PR: 50},
  [ds('GPS', fromXY(aT, aV), BLACK, 4.9, 5.2, 0)],
  aXTicks, aYTicks, 't[s]', 'v[m/s]',
  {right: 12, top: 14, w: 176, h: 65, rows: [33], mx: 32, tx: 65, font: 48});

// (b)
makeChart({L: 2015, T: 75, R: 3572, B: 904, AW: 130, AH: 129, PT: 45, PR: 45},
  [ds('d1', onGrid(bD1), BLACK, 3.9, 4.2, 3), ds('d2', onGrid(bD2), RED, 3.9, 4.2, 2),
   ds('d3', onGrid(bD3), BLUE, 3.9, 4.2, 1), ds('d4', onGrid(bD4), GREEN, 3.9, 4.2, 0)],
  aXTicks, bYTicks, 't[s]', 'd[m]',
  {right: 13, top: 14, w: 125, h: 229, rows: [31, 86, 141, 197], mx: 33, tx: 65, font: 46});

// (c)
makeChart({L: 161, T: 1230, R: 1750, B: 2076, AW: 140, AH: 131, PT: 45, PR: 50},
  [ds('TRI', onGrid(cTRI), RED, 4.1, 4.4, 2), ds('NLP', onGrid(cNLP), BLUE, 4.1, 4.4, 1),
   ds('GEO', onGrid(cGEO), GREEN, 4.1, 4.4, 0)],
  aXTicks, cYTicks, 't[s]', '',
  {right: 12, top: 12, w: 182, h: 179, rows: [31, 89, 147], mx: 34, tx: 60, font: 48}, [ecTitle]);

// (d)
makeChart({L: 2000, T: 1240, R: 3551, B: 2075, AW: 96, AH: 125, PT: 45, PR: 60},
  [ds('GPS', fromPairs(dGPS), BLACK, 3.9, 4.0, 3), ds('TRI', fromPairs(dTRI), RED, 3.9, 4.0, 2),
   ds('NLP', fromPairs(dNLP), BLUE, 3.9, 4.0, 1), ds('GEO', fromPairs(dGEO), GREEN, 3.9, 4.0, 0)],
  dXTicks, dYTicks, 'x[m]', 'y[m]',
  {right: 11, top: 15, w: 167, h: 207, rows: [30, 80, 130, 180], mx: 31, tx: 63, font: 44});
</script>
</body></html>
